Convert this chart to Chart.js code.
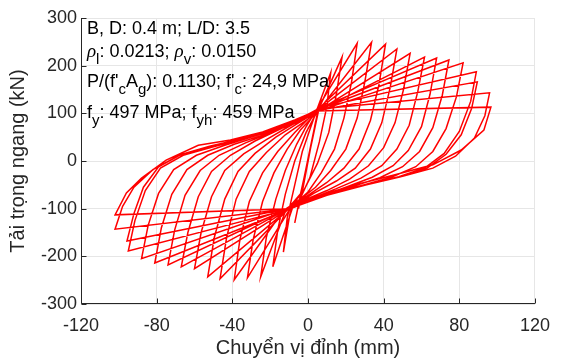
<!DOCTYPE html>
<html>
<head>
<meta charset="utf-8">
<script src="https://cdn.jsdelivr.net/npm/chart.js@4.4.0/dist/chart.umd.min.js"></script>
<style>
  html, body { margin: 0; padding: 0; background: #fff; }
  #wrap { width: 561px; height: 360px; }
</style>
</head>
<body>
<div id="wrap"><canvas id="loop" width="561" height="360"></canvas></div>
<script>
// Chuyển vị đỉnh (mm) / Tải trọng ngang (kN), one point per pair, in loading order
const dispMm = [
  0, 3, -3, 4, -5, 6, -7, -2, 3, 7, 1, -4, -9,
  -13, -11, -7, -3, 4,
  12, 10, 6, 1, -4, -8,
  -18.6, -16, -12, -7, -1, 6,
  18, 15, 11, 5, -2, -12,
  -25, -22, -17, -12, -6, -1, 3,
  26, 23, 19, 14, 7, 0, -9,
  -32, -29, -24, -18, -11, -4, 6,
  33.6, 30, 26, 20, 12, 4, -4, -13,
  -39, -36, -31, -24, -16, -7, 4,
  41, 37.5, 33, 27, 19, 10, 0, -10,
  -46.5, -43, -38, -31, -22, -12, 0, 7,
  47, 43.5, 39, 33, 25, 15, 3, -11,
  -53, -49.5, -44, -37, -28, -17, -5, 5,
  54, 50.5, 46, 40, 32, 22, 10, -2, -8,
  -60, -56.5, -51, -44, -34, -22, -9, 3,
  61.6, 58, 53.5, 47, 39, 28, 15, 1, -12,
  -67, -63.5, -58, -51, -41, -28, -13, 6,
  68, 64.5, 60, 53, 45, 34, 20, 4, -10,
  -74, -70.5, -65, -57, -47, -33, -17, 5,
  74.5, 71, 66, 59, 50, 38, 23, 6, -13,
  -81, -77.5, -72, -64, -53, -39, -21, -3, 4,
  82, 78.5, 73, 66, 57, 44, 27, 8, -9,
  -88, -84.5, -79, -71, -59, -44, -26, -7, 7,
  89, 86, 80, 72, 62, 48, 30, 10, -11,
  -95, -91.5, -86, -78, -66, -50, -31, -10, 5,
  89.5, 86.5, 81, 73, 63, 49, 31, 10, -10,
  -95.7, -92, -87, -79, -67, -52, -34, -14, 6,
  96, 93.5, 88, 78, 66, 50, 30, 8, -12,
  -102, -98, -92, -82, -68, -52, -36, -18, -4, 4,
  96.7, 93, 81, 66, 45, 25, 4, -10,
  -102, -96, -88, -75, -58, -41, -24, -7, 6
];
const loadKn = [
  0, 62, -64, 82, -100, 120, -130, -35, 60, 132, 20, -70, -98,
  -191, -120, -50, 20, 100,
  185, 115, 40, -35, -78, -96,
  -222, -145, -70, 0, 60, 112,
  218, 140, 60, -5, -60, -106,
  -243, -160, -80, -20, 35, 72, 98,
  247, 165, 90, 25, -25, -65, -97,
  -245, -165, -85, -25, 25, 65, 108,
  249, 165, 90, 25, -20, -55, -80, -104,
  -249, -165, -85, -25, 20, 60, 104,
  245, 160, 85, 25, -15, -45, -72, -99,
  -247, -160, -80, -22, 18, 55, 88, 113,
  235, 155, 80, 25, -15, -42, -68, -103,
  -243, -160, -80, -22, 16, 50, 80, 104,
  226, 150, 80, 28, -10, -38, -62, -82, -95,
  -226, -150, -75, -20, 15, 45, 75, 100,
  218, 145, 75, 25, -10, -36, -58, -80, -103,
  -222, -150, -75, -22, 12, 42, 70, 111,
  216, 140, 72, 22, -10, -34, -55, -78, -98,
  -218, -145, -72, -20, 12, 38, 64, 107,
  212, 138, 70, 20, -12, -35, -54, -76, -106,
  -214, -140, -70, -18, 12, 35, 58, 85, 103,
  206, 135, 68, 20, -12, -34, -53, -74, -97,
  -205, -135, -68, -18, 12, 33, 55, 82, 112,
  187, 125, 62, 16, -14, -33, -50, -72, -102,
  -189, -125, -62, -15, 12, 30, 50, 78, 106,
  166, 110, 55, 14, -15, -33, -50, -72, -99,
  -168, -110, -55, -12, 14, 31, 48, 72, 109,
  143, 95, 48, 10, -15, -32, -50, -72, -101,
  -143, -95, -55, -18, 12, 30, 44, 64, 86, 105,
  113, 65, 23, -8, -30, -50, -75, -100,
  -113, -67, -36, 2, 33, 44, 61, 86, 108
];

const xTicks = [-120, -80, -40, 0, 40, 80, 120];
const yTicks = [-300, -200, -100, 0, 100, 200, 300];

// thông số mẫu: [text, kiểu] — n thường, i nghiêng (ký hiệu), s chỉ số dưới
const infoLines = [
  [['B, D: 0.4 m; L/D: 3.5', 'n']],
  [['ρ', 'i'], ['l', 's'], [': 0.0213; ', 'n'], ['ρ', 'i'], ['v', 's'], [': 0.0150', 'n']],
  [['P/(f\'', 'n'], ['c', 's'], ['A', 'n'], ['g', 's'], ['): 0.1130; f\'', 'n'], ['c', 's'], [': 24,9 MPa', 'n']],
  [['f', 'n'], ['y', 's'], [': 497 MPa; f', 'n'], ['yh', 's'], [': 459 MPa', 'n']]
];

const FONT = '"Liberation Sans", Arial, Helvetica, sans-serif';
const SERIF = '"Liberation Serif", "Times New Roman", serif';
const INK = '#262626';

const axesPlugin = {
  id: 'axesPlugin',
  afterDraw(chart) {
    const { ctx, chartArea: a, scales } = chart;
    ctx.save();
    ctx.strokeStyle = INK;
    ctx.lineWidth = 1;
    const L = Math.round(a.left) + 0.5;
    const B = Math.round(a.bottom) - 0.5;
    ctx.beginPath();
    ctx.moveTo(L, a.top);
    ctx.lineTo(L, B);
    ctx.lineTo(a.right, B);
    // inward ticks
    xTicks.forEach(v => {
      const px = Math.round(scales.x.getPixelForValue(v)) + 0.5;
      ctx.moveTo(px, B);
      ctx.lineTo(px, B - 5);
    });
    yTicks.forEach(v => {
      const py = Math.round(scales.y.getPixelForValue(v)) + 0.5;
      ctx.moveTo(L, py);
      ctx.lineTo(L + 5, py);
    });
    ctx.stroke();

    // info text
    const baselines = [34, 57, 87, 118];
    ctx.fillStyle = '#000';
    ctx.textBaseline = 'alphabetic';
    infoLines.forEach((parts, i) => {
      let x = 87;
      parts.forEach(([txt, kind]) => {
        let y = baselines[i];
        if (kind === 's') { ctx.font = '15px ' + FONT; y += 7; }
        else if (kind === 'i') ctx.font = 'italic 19px ' + SERIF;
        else ctx.font = '18px ' + FONT;
        ctx.fillText(txt, x, y);
        x += ctx.measureText(txt).width;
      });
    });
    ctx.restore();
  }
};

new Chart(document.getElementById('loop'), {
  type: 'scatter',
  data: {
    datasets: [{
      data: dispMm.map((x, i) => ({ x, y: loadKn[i] })),
      showLine: true,
      borderColor: '#ff0000',
      borderWidth: 1.5,
      pointRadius: 0,
      tension: 0
    }]
  },
  options: {
    responsive: false,
    animation: false,
    layout: { padding: { top: 18, right: 16, left: 0, bottom: 0 } },
    plugins: { legend: { display: false }, tooltip: { enabled: false } },
    scales: {
      x: {
        type: 'linear',
        min: -120,
        max: 120,
        afterBuildTicks: s => { s.ticks = xTicks.map(v => ({ value: v })); },
        afterFit: s => { s.height = 56; },
        grid: { color: '#e6e6e6', drawTicks: false },
        border: { display: false },
        ticks: { color: INK, font: { family: FONT, size: 18 }, padding: 11, maxRotation: 0 },
        title: {
          display: true, text: 'Chuyển vị đỉnh (mm)', color: INK,
          font: { family: FONT, size: 20 }, padding: { top: 0, bottom: 0 }
        }
      },
      y: {
        type: 'linear',
        min: -300,
        max: 300,
        afterBuildTicks: s => { s.ticks = yTicks.map(v => ({ value: v })); },
        afterFit: s => { s.width = 81; },
        grid: { color: '#e6e6e6', drawTicks: false },
        border: { display: false },
        ticks: { color: INK, font: { family: FONT, size: 18 }, padding: 4 },
        title: {
          display: true, text: 'Tải trọng ngang (kN)', color: INK,
          font: { family: FONT, size: 20 }, padding: { top: 6, bottom: 0 }
        }
      }
    }
  },
  plugins: [axesPlugin]
});
</script>
</body>
</html>
